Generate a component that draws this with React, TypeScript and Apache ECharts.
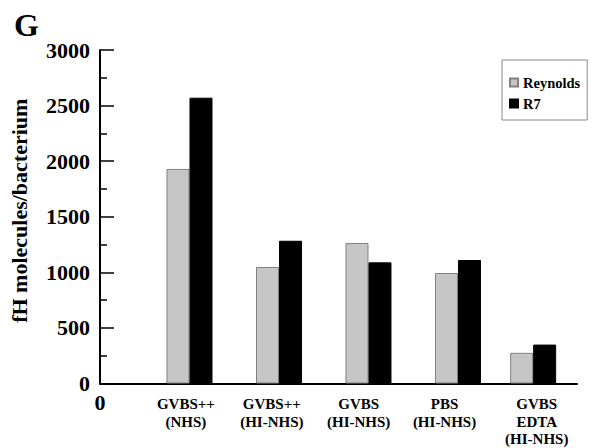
import React, { useEffect, useRef } from "react";
import * as echarts from "echarts";

const categories = ["0", "GVBS++\n(NHS)", "GVBS++\n(HI-NHS)", "GVBS\n(HI-NHS)", "PBS\n(HI-NHS)", "GVBS\nEDTA\n(HI-NHS)"];
const labelPositions = [0, 0.96, 1.92, 2.89, 3.85, 4.88];
const groupPositions = [1, 2, 3, 4, 4.84];
const reynolds = [1930, 1048, 1264, 994, 276];
const r7 = [2571, 1284, 1090, 1111, 350];
const seriesNames = ["Reynolds", "R7"];

const FONT = "'Liberation Serif', 'Times New Roman', serif";

export default function App() {
  const ref = useRef<HTMLDivElement>(null);
  useEffect(() => {
    if (!ref.current) return;
    const chart = echarts.init(ref.current, null, { renderer: "svg" });
    const pair = (vals: number[]) => vals.map((v, i) => [groupPositions[i], v]);
    chart.setOption({
      animation: false,
      backgroundColor: "#fff",
      title: {
        text: "G",
        left: 9,
        top: 4,
        textStyle: { fontFamily: FONT, fontWeight: "bold", fontSize: 32, color: "#000" },
      },
      legend: {
        orient: "vertical",
        left: 502,
        top: 60,
        padding: [15, 7, 9, 7],
        itemGap: 6,
        itemWidth: 8,
        itemHeight: 8,
        icon: "rect",
        borderColor: "#888",
        borderWidth: 1,
        data: seriesNames,
        textStyle: { fontFamily: FONT, fontWeight: "bold", fontSize: 14.5, color: "#000" },
      },
      grid: { left: 92, right: 25, top: 50, bottom: 64, containLabel: false },
      xAxis: {
        type: "value",
        min: 0,
        max: 5.33,
        splitLine: { show: false },
        axisTick: { show: false },
        axisLine: { lineStyle: { color: "#000", width: 2 } },
        axisLabel: {
          customValues: labelPositions,
          margin: 12,
          fontFamily: FONT,
          fontWeight: "bold",
          fontSize: 15,
          lineHeight: 17.5,
          color: "#000",
          formatter: (val: number) => {
            const idx = labelPositions.findIndex((p) => Math.abs(p - val) < 1e-6);
            if (idx < 0) return "";
            if (idx === 0) return "{big|" + categories[0] + "}";
            return categories[idx];
          },
          rich: {
            big: { fontFamily: FONT, fontWeight: "bold", fontSize: 22, lineHeight: 14, color: "#000" },
          },
        },
      },
      yAxis: {
        type: "value",
        min: 0,
        max: 3000,
        interval: 500,
        name: "fH molecules/bacterium",
        nameLocation: "middle",
        nameGap: 70,
        nameTextStyle: { fontFamily: FONT, fontWeight: "bold", fontSize: 22, color: "#000", padding: [0, 0, 0, 12] },
        splitLine: { show: false },
        axisLine: { show: true, lineStyle: { color: "#000", width: 2 } },
        axisTick: { show: true, inside: true, length: 14, lineStyle: { color: "#000", width: 1.5 } },
        minorTick: { show: true, splitNumber: 2, length: 7, lineStyle: { color: "#000", width: 1.5 } },
        axisLabel: {
          fontFamily: FONT,
          fontWeight: "bold",
          fontSize: 22,
          color: "#000",
          margin: 10,
          formatter: (v: number) => String(v),
        },
      },
      series: [
        {
          name: seriesNames[0],
          type: "bar",
          barWidth: 23,
          barGap: "0%",
          data: pair(reynolds),
          itemStyle: { color: "#c6c6c6", borderColor: "#808080", borderWidth: 1 },
        },
        {
          name: seriesNames[1],
          type: "bar",
          barWidth: 23,
          barGap: "0%",
          data: pair(r7),
          itemStyle: { color: "#000", borderColor: "#000", borderWidth: 1 },
        },
      ],
    });
    return () => chart.dispose();
  }, []);
  return <div ref={ref} style={{ width: 602, height: 448, position: "absolute", left: 0, top: 0 }} />;
}
